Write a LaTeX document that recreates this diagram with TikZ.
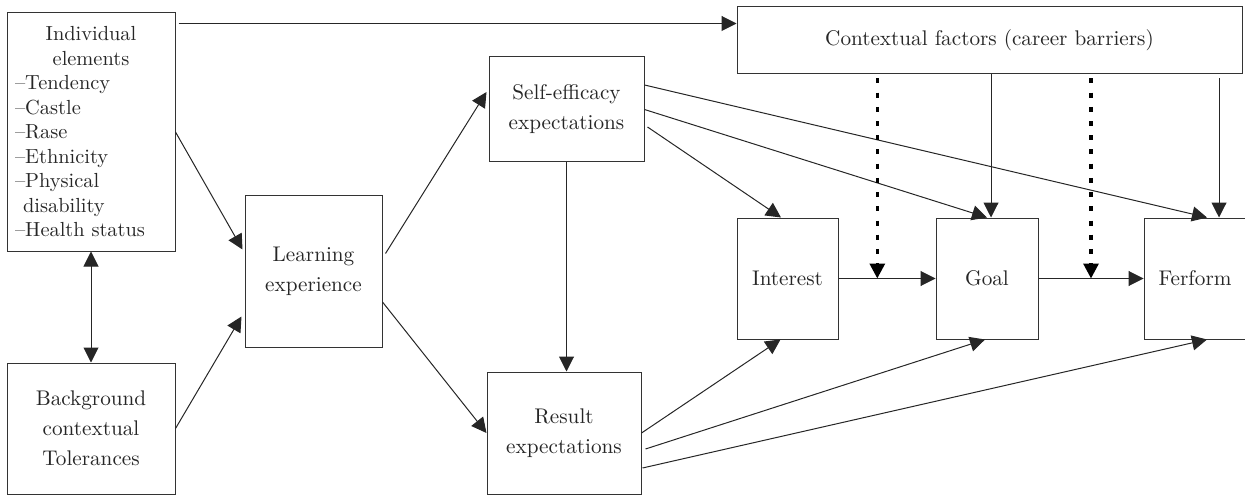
\documentclass[tikz,border=0pt]{standalone}
\usepackage{fontspec}
\usepackage{tikz}
\usetikzlibrary{calc, arrows.meta}
\tikzset{dbox/.style={draw=black!80, line width=0.5pt, text=black!85, inner sep=0pt, align=center, font=\fontsize{10.6}{15}\selectfont}}
\tikzset{dlist/.style={dbox, align=left, text width=76pt, inner xsep=4pt, font=\fontsize{10.2}{12.25}\selectfont}}
\tikzset{arr/.style={draw=black!85, line width=0.5pt, -{Triangle[length=7.5pt, width=7.5pt]}}}
\tikzset{arrd/.style={arr, {Triangle[length=7.5pt, width=7.5pt]}-{Triangle[length=7.5pt, width=7.5pt]}}}
\tikzset{barrier/.style={draw=black, line width=1.6pt, dash pattern=on 2.5pt off 4.6pt, -{Triangle[length=7.5pt, width=7.5pt]}}}
\begin{document}
\begin{tikzpicture}[x=0.5pt, y=-0.5pt]
                \useasboundingbox (0,0) rectangle (1245,497);
                \node[dlist, minimum width=84pt, minimum height=119pt] (ind) at (91,132)
                    {\makebox[\linewidth]{Individual}\\
                     \makebox[\linewidth]{elements}\\
                     --Tendency\\ --Castle\\ --Rase\\ --Ethnicity\\ --Physical\\
                     \hspace*{4pt}disability\\ --Health status};
                \node[dbox, minimum width=84pt, minimum height=65.5pt] (bg) at (91,428.5) {Background\\contextual\\Tolerances};
                \node[dbox, minimum width=68.5pt, minimum height=75.5pt] (learn) at (313.5,271.5) {Learning\\experience};
                \node[dbox, minimum width=77.5pt, minimum height=52.5pt] (self) at (566.5,109.5) {Self-efficacy\\expectations};
                \node[dbox, minimum width=77pt, minimum height=61pt] (res) at (564,433) {Result\\expectations};
                \node[dbox, minimum width=252.5pt, minimum height=33.5pt] (ctx) at (989.5,40.5) {Contextual factors (career barriers)};
                \node[dbox, minimum width=50.5pt, minimum height=60.5pt] (int) at (787.5,278.5) {Interest};
                \node[dbox, minimum width=51pt, minimum height=60.5pt] (goal) at (987,278.5) {Goal};
                \node[dbox, minimum width=51pt, minimum height=60.5pt] (perf) at (1195,278.5) {Ferform};
                %
                \draw[arr] ($(ind.north east)+(3,11)$) -- ($(ctx.north west)+(0,17)$);
                \draw[arr] (ind.east) -- ($(learn.west)+(-2,-22)$);
                \draw[arrd] (ind.south) -- (bg.north);
                \draw[arr] (bg.east) -- ($(learn.west)+(-3,45)$);
                %
                \draw[arr] ($(learn.east)+(3,-18)$) -- ($(self.west)+(-2,-17.5)$);
                \draw[arr] ($(learn.east)+(0,30.5)$) -- (res.west);
                \draw[arr] (self.south) -- (self.south |- res.north);
                %
                \draw[arr] ($(self.east)+(0,-24.5)$) -- ($(perf.north)+(12,0)$);
                \draw[arr] (self.east) -- (goal.north);
                \draw[arr] ($(self.east)+(3,17.5)$) -- ($(int.north)+(-6.5,0)$);
                %
                \draw[arr] ($(goal.north |- ctx.south)+(4,0)$) -- ($(goal.north)+(4,0)$);
                \draw[arr] ($(perf.north |- ctx.south)+(24,4)$) -- ($(perf.north)+(24,0)$);
                %
                \draw[arr] (int.east) -- (goal.west);
                \draw[arr] (goal.east) -- (perf.west);
                \coordinate (b1) at ($(int.east)!0.4!(goal.west)$);
                \coordinate (b2) at ($(goal.east)!0.5!(perf.west)$);
                \draw[barrier] ($(b1 |- ctx.south)+(0,4)$) -- (b1);
                \draw[barrier] ($(b2 |- ctx.south)+(0,4)$) -- (b2);
                %
                \draw[arr] (res.east) -- ($(int.south)+(-7,0)$);
                \draw[arr] ($(res.east)+(4,16)$) -- ($(goal.south)+(-2,0)$);
                \draw[arr] ($(res.east)+(1,35)$) -- ($(perf.south)+(12,0)$);
                %
\end{tikzpicture}
\end{document}
